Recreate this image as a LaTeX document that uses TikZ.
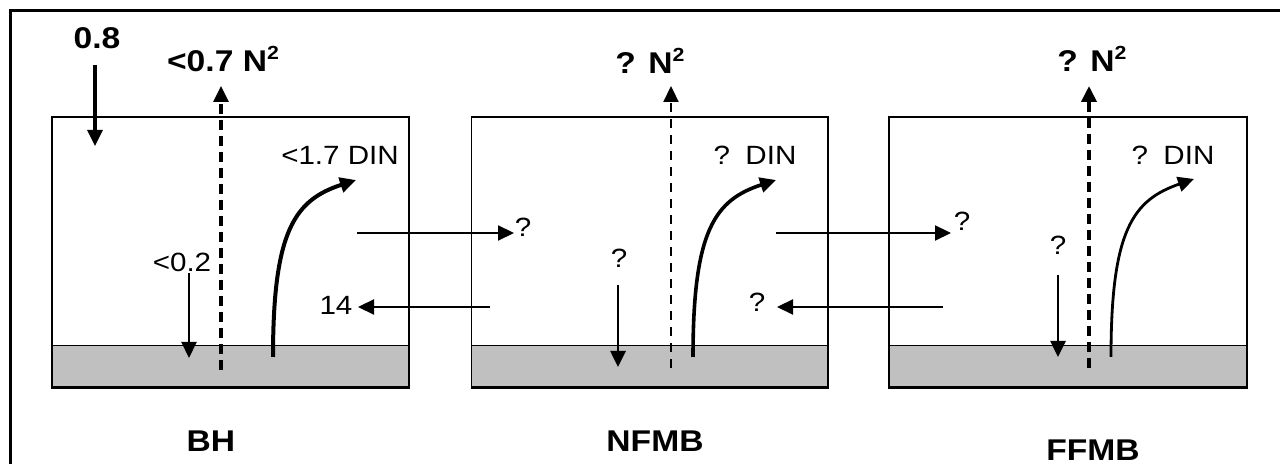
\documentclass[tikz,border=0pt]{standalone}
\usepackage{fontspec}
\setmainfont{Liberation Sans}[FakeStretch=1.12]
\usetikzlibrary{arrows.meta}
\newcommand{\sq}{\raisebox{0.8ex}{\fontsize{9.5}{10}\selectfont 2}}
\tikzset{
  lbl/.style={inner sep=0pt, font=\fontsize{13.2}{15}\selectfont},
  blbl/.style={inner sep=0pt, font=\fontsize{15}{17}\selectfont\bfseries},
  tip/.style={-{Triangle[length=8pt,width=7.5pt]}},
  flow/.style={tip, line width=1.1pt},
  bflow/.style={tip, line width=1.6pt},
  gas/.style={tip, line width=1.5pt, dash pattern=on 5pt off 3pt},
  boxline/.style={line width=0.8pt},
  sed/.style={fill={rgb,255:red,192;green,192;blue,192}, draw=black, line width=0.5pt},
}
\begin{document}
\begin{tikzpicture}[x=0.5pt,y=-0.5pt]
\useasboundingbox (0,0) rectangle (1280,464);
% outer frame (left and top visible)
\draw[line width=1.5pt] (10.5,470) -- (10.5,10.5) -- (1290,10.5);

% boxes
\foreach \n/\xa/\xb in {b1/52/409, b2/471.5/828, b3/889/1247}{
  \fill[white] (\xa,117) rectangle (\xb,388);
  \draw[sed] (\xa,346) rectangle (\xb,388);
  \draw[boxline] (\xa,117) rectangle (\xb,388);
  \draw[line width=1.5pt] (\xa,388) -- (\xb,388);
}
\node[draw=none, minimum size=0pt, inner sep=0pt] (box1) at (230.5,252.5) {};
\node[draw=none, minimum size=0pt, inner sep=0pt] (box2) at (649.75,252.5) {};
\node[draw=none, minimum size=0pt, inner sep=0pt] (box3) at (1068,252.5) {};

% labels
\node[blbl] (bh) at (211,441) {BH};
\node[blbl] (nfmb) at (655,441) {NFMB};
\node[blbl] (ffmb) at (1093,450) {FFMB};

% ---------- Box 1 ----------
\node[blbl] (in08) at (97,38) {0.8};
\coordinate (in08s) at (95,65);
\coordinate (in08e) at (95,146);
\draw[bflow] (in08s) -- (in08e);

\node[blbl] (n2a) at (223,59) {<0.7 N\sq};
\coordinate (n2as) at (221,370);
\coordinate (n2ae) at (221,86);
\draw[gas, line width=1.6pt] (n2as) -- (n2ae);

\node[lbl] (dina) at (340,155) {<1.7 DIN};
\coordinate (dinas) at (273,357);
\coordinate (dinae) at (356,180);
\draw[tip, line width=2pt] (dinas) .. controls (273,230) and (295,200) .. (dinae);

\node[lbl] (sa) at (182,262) {<0.2};
\coordinate (sas) at (189,273);
\coordinate (sae) at (189,358);
\draw[flow] (sas) -- (sae);

\node[lbl] (f14) at (336,305) {14};
\coordinate (f14s) at (490,307);
\coordinate (f14e) at (358,307);
\draw[flow] (f14s) -- (f14e);

\node[lbl] (q12) at (523,227) {?};
\coordinate (q12s) at (357,233);
\coordinate (q12e) at (514,233);
\draw[flow] (q12s) -- (q12e);

% ---------- Box 2 ----------
\node[blbl] (n2b) at (650,61) {? N\sq};
\coordinate (n2bs) at (671,368);
\coordinate (n2be) at (671,86);
\draw[gas, line width=1.1pt, dash pattern=on 4.5pt off 3.5pt] (n2bs) -- (n2be);

\node[lbl] (dinb) at (755,155) {? \,DIN};
\coordinate (dinbs) at (693,357);
\coordinate (dinbe) at (776,180);
\draw[tip, line width=1.8pt] (dinbs) .. controls (693,230) and (715,200) .. (dinbe);

\node[lbl] (sb) at (619,258) {?};
\coordinate (sbs) at (618,285);
\coordinate (sbe) at (618,367);
\draw[flow, line width=1.3pt] (sbs) -- (sbe);

\node[lbl] (q32) at (757,302) {?};
\coordinate (q32s) at (943,307);
\coordinate (q32e) at (777,307);
\draw[flow] (q32s) -- (q32e);

\node[lbl] (q23) at (962,221) {?};
\coordinate (q23s) at (776,233);
\coordinate (q23e) at (951,233);
\draw[flow] (q23s) -- (q23e);

% ---------- Box 3 ----------
\node[blbl] (n2c) at (1092,59) {? N\sq};
\coordinate (n2cs) at (1089,368);
\coordinate (n2ce) at (1089,86);
\draw[gas, line width=1.9pt] (n2cs) -- (n2ce);

\node[lbl] (dinc) at (1173,155) {? \,DIN};
\coordinate (dincs) at (1111,357);
\coordinate (dince) at (1194,179);
\draw[tip, line width=1.4pt] (dincs) .. controls (1111,230) and (1133,200) .. (dince);

\node[lbl] (sc) at (1058,245) {?};
\coordinate (scs) at (1058,275);
\coordinate (sce) at (1058,357);
\draw[flow, line width=1.3pt] (scs) -- (sce);
\end{tikzpicture}
\end{document}
